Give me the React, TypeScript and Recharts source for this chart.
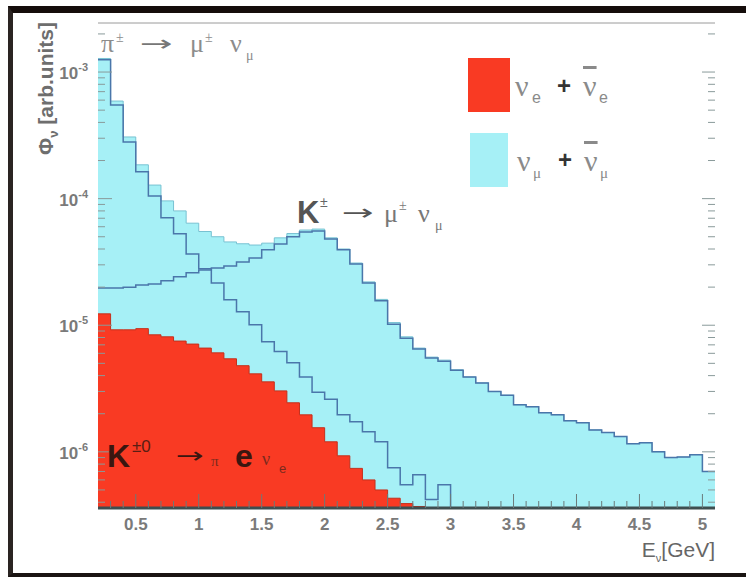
import React from 'react';
import { ComposedChart, Area, Line, XAxis, YAxis, ReferenceLine } from 'recharts';

// lower edge of each 0.1 GeV bin
const binStart = [
  0.2, 0.3, 0.4, 0.5, 0.6, 0.7, 0.8, 0.9, 1.0, 1.1, 1.2, 1.3, 1.4, 1.5, 1.6, 1.7,
  1.8, 1.9, 2.0, 2.1, 2.2, 2.3, 2.4, 2.5, 2.6, 2.7, 2.8, 2.9, 3.0, 3.1, 3.2, 3.3,
  3.4, 3.5, 3.6, 3.7, 3.8, 3.9, 4.0, 4.1, 4.2, 4.3, 4.4, 4.5, 4.6, 4.7, 4.8, 4.9, 5.0,
];
const E_MAX = 5.1;

// nu_mu + anti nu_mu (cyan, total)
const numuTotal = [
  1.28e-3, 5.9e-4, 3.07e-4, 1.85e-4, 1.28e-4, 9.6e-5, 8.0e-5, 6.4e-5, 5.5e-5, 5.0e-5,
  4.55e-5, 4.4e-5, 4.3e-5, 4.45e-5, 4.9e-5, 5.3e-5, 5.65e-5, 5.75e-5, 4.9e-5, 4.0e-5,
  3.1e-5, 2.2e-5, 1.6e-5, 1.05e-5, 8.1e-6, 6.6e-6, 5.6e-6, 5.3e-6, 4.45e-6, 3.9e-6,
  3.5e-6, 3.0e-6, 2.8e-6, 2.35e-6, 2.27e-6, 2.04e-6, 1.96e-6, 1.76e-6, 1.7e-6, 1.49e-6,
  1.42e-6, 1.32e-6, 1.16e-6, 1.18e-6, 1.0e-6, 9.0e-7, 9.1e-7, 9.5e-7, 7.0e-7,
];

// pi -> mu nu component
const numuPion = [
  1.25e-3, 5.5e-4, 2.8e-4, 1.63e-4, 1.05e-4, 7.05e-5, 5.27e-5, 3.66e-5, 2.79e-5, 2.16e-5,
  1.59e-5, 1.28e-5, 1.01e-5, 7.4e-6, 6.2e-6, 5.05e-6, 3.9e-6, 2.95e-6, 2.6e-6, 1.96e-6,
  1.73e-6, 1.44e-6, 1.2e-6, 7.5e-7, 5.5e-7, 6.6e-7, 4.2e-7, 5.5e-7, 0, 0,
  0, 0, 0, 0, 0, 0, 0, 0, 0, 0,
  0, 0, 0, 0, 0, 0, 0, 0, 0,
];

// K -> mu nu component
const numuKaon = [
  1.97e-5, 1.97e-5, 2.0e-5, 2.08e-5, 2.12e-5, 2.25e-5, 2.42e-5, 2.6e-5, 2.73e-5, 2.83e-5,
  2.94e-5, 3.16e-5, 3.4e-5, 3.94e-5, 4.39e-5, 4.99e-5, 5.46e-5, 5.55e-5, 4.8e-5, 3.94e-5,
  3.05e-5, 2.16e-5, 1.56e-5, 1.02e-5, 7.9e-6, 6.5e-6, 5.5e-6, 5.2e-6, 4.4e-6, 3.9e-6,
  3.5e-6, 3.0e-6, 2.8e-6, 2.35e-6, 2.27e-6, 2.04e-6, 1.96e-6, 1.76e-6, 1.7e-6, 1.49e-6,
  1.42e-6, 1.32e-6, 1.16e-6, 1.18e-6, 1.0e-6, 9.0e-7, 9.1e-7, 9.5e-7, 7.0e-7,
];

// nu_e + anti nu_e (red)
const nueTotal = [
  1.23e-5, 9.2e-6, 9.2e-6, 9.4e-6, 8.4e-6, 8.1e-6, 7.5e-6, 7.1e-6, 6.6e-6, 6.05e-6,
  5.43e-6, 4.79e-6, 4.13e-6, 3.57e-6, 3.03e-6, 2.44e-6, 1.96e-6, 1.55e-6, 1.2e-6, 9.3e-7,
  7.4e-7, 6.0e-7, 5.0e-7, 4.3e-7, 3.9e-7, 3.7e-7, 0, 0, 0, 0,
  0, 0, 0, 0, 0, 0, 0, 0, 0, 0,
  0, 0, 0, 0, 0, 0, 0, 0, 0,
];

const Y_MIN = 3.6e-7;
const Y_MAX = 2.44e-3;
const FLOOR = 1e-9; // empty bins, below the visible range of the log axis

const CYAN = '#a6f0f6';
const RED = '#f93a23';
const BLUE = '#4a76aa';

const lg = (v: number) => (v > 0 ? v : FLOOR);

const rows = binStart.map((e, i) => ({
  e,
  numu: lg(numuTotal[i]),
  pion: lg(numuPion[i]),
  kaon: lg(numuKaon[i]),
  nue: lg(nueTotal[i]),
}));
// closing edge of the last bin for the step curves
rows.push({ ...rows[rows.length - 1], e: E_MAX });

const xTicks = binStart.slice(1);
const isHalf = (v: number) => Math.abs(v * 2 - Math.round(v * 2)) < 1e-6;

const yTicks: number[] = [];
[1e-7, 1e-6, 1e-5, 1e-4, 1e-3].forEach((d) => {
  for (let m = 1; m <= 9; m++) {
    const v = m * d;
    if (v >= Y_MIN && v <= Y_MAX) yTicks.push(v);
  }
});
const isDecade = (v: number) => {
  const p = Math.round(Math.log10(v));
  return Math.abs(v - Math.pow(10, p)) / v < 1e-6;
};

const X_TM = 6;
const XTick = (props: any) => {
  const { x, y, payload } = props;
  const v = payload.value;
  const major = isHalf(v);
  const axisY = y - X_TM;
  return (
    <g>
      <line x1={x} x2={x} y1={axisY} y2={axisY - (major ? 14 : 7)} stroke="#6a7a7a" strokeWidth={1} />
      {major && (
        <text x={x} y={axisY + 22} textAnchor="middle" fontFamily="Liberation Sans" fontWeight="bold" fontSize={17} fill="#7a7a7a">
          {String(v)}
        </text>
      )}
    </g>
  );
};

const Y_TM = 10;
const YTickLeft = (props: any) => {
  const { x, y, payload } = props;
  const v = payload.value;
  const major = isDecade(v);
  const axisX = x + Y_TM;
  return (
    <g>
      <line x1={axisX} x2={axisX + (major ? 14 : 7)} y1={y} y2={y} stroke="#8a9a9a" strokeWidth={1} />
      {major && (
        <text x={x} y={y + 7} textAnchor="end" fontFamily="Liberation Sans" fontWeight="bold" fill="#7a7a7a">
          <tspan fontSize={17}>10</tspan>
          <tspan fontSize={11} dy={-8}>{String(Math.round(Math.log10(v)))}</tspan>
        </text>
      )}
    </g>
  );
};

const YTickRight = (props: any) => {
  const { x, y, payload } = props;
  const major = isDecade(payload.value);
  return <line x1={x - (major ? 13 : 7)} x2={x} y1={y} y2={y} stroke="#8a9a9a" strokeWidth={1} />;
};

const serif = 'Liberation Serif';
const sans = 'Liberation Sans';

const Arrow = ({ x, y, w, fill }: { x: number; y: number; w: number; fill: string }) => (
  <text x={x} y={y} fontFamily="DejaVu Sans" fontSize={22} fill={fill} textLength={w} lengthAdjust="spacingAndGlyphs">
    →
  </text>
);

const Annotations = () => (
  <svg width={746} height={577} style={{ position: 'absolute', left: 0, top: 0, pointerEvents: 'none' }}>
    {/* y axis title */}
    <text transform="translate(53,22) rotate(-90)" textAnchor="end" fontFamily={sans} fontWeight="bold" fontSize={21} fill="#6e6e6e">
      Φ<tspan fontSize={13} dy={5}>ν</tspan>
      <tspan dy={-5}> [arb.units]</tspan>
    </text>
    {/* x axis title */}
    <text x={715} y={557} textAnchor="end" fontFamily={sans} fontSize={21} fill="#666">
      E<tspan fontSize={11} dy={5}>ν</tspan>
      <tspan dy={-5}>[GeV]</tspan>
    </text>

    {/* pi -> mu nu */}
    <g fontFamily={serif} fill="#8c8c8c">
      <text x={101} y={52} fontSize={26}>π</text>
      <text x={116} y={42} fontSize={14}>±</text>
      <text x={190} y={52} fontSize={26}>μ</text>
      <text x={205} y={42} fontSize={14}>±</text>
      <text x={230} y={52} fontSize={26}>ν</text>
      <text x={246} y={60} fontSize={14}>μ</text>
    </g>
    <Arrow x={140} y={51} w={33} fill="#777" />

    {/* K -> mu nu */}
    <text x={297} y={223} fontFamily={sans} fontWeight="bold" fontSize={31} fill="#555">K</text>
    <text x={320} y={207} fontFamily={sans} fontSize={14} fill="#666">±</text>
    <Arrow x={342} y={220} w={32} fill="#555" />
    <g fontFamily={serif} fill="#777">
      <text x={384} y={222} fontSize={26}>μ</text>
      <text x={399} y={210} fontSize={14}>±</text>
      <text x={418} y={222} fontSize={26}>ν</text>
      <text x={435} y={230} fontSize={14}>μ</text>
    </g>

    {/* K -> pi e nu */}
    <text x={107} y={467} fontFamily={sans} fontWeight="bold" fontSize={32} fill="#3a1610">K</text>
    <text x={132} y={452} fontFamily={sans} fontSize={17} fill="#5a1e14">±0</text>
    <Arrow x={176} y={463} w={28} fill="#3a1610" />
    <text x={211} y={466} fontFamily={serif} fontSize={15} fill="#7a2a1e">π</text>
    <text x={235} y={467} fontFamily={sans} fontWeight="bold" fontSize={32} fill="#3a1610">e</text>
    <text x={262} y={465} fontFamily={serif} fontSize={18} fill="#7a2a1e">ν</text>
    <text x={279} y={473} fontFamily={sans} fontSize={13} fill="#7a2a1e">e</text>

    {/* legend */}
    <rect x={468} y={58} width={42} height={54} fill={RED} />
    <rect x={470} y={133} width={38} height={54} fill={CYAN} />
    <g fill="#8a8a8a">
      <text x={515} y={96} fontFamily={serif} fontSize={30}>ν</text>
      <text x={532} y={103} fontFamily={sans} fontSize={16}>e</text>
      <text x={583} y={96} fontFamily={serif} fontSize={30} style={{ textDecoration: 'overline' }}>ν</text>
      <text x={599} y={103} fontFamily={sans} fontSize={16}>e</text>
      <text x={517} y={171} fontFamily={serif} fontSize={30}>ν</text>
      <text x={533} y={178} fontFamily={serif} fontSize={15}>μ</text>
      <text x={584} y={171} fontFamily={serif} fontSize={30} style={{ textDecoration: 'overline' }}>ν</text>
      <text x={600} y={178} fontFamily={serif} fontSize={15}>μ</text>
    </g>
    <text x={557} y={94} fontFamily={sans} fontWeight="bold" fontSize={24} fill="#333">+</text>
    <text x={558} y={168} fontFamily={sans} fontWeight="bold" fontSize={24} fill="#333">+</text>
  </svg>
);

export default function App() {
  return (
    <div style={{ position: 'fixed', left: 0, top: 0, width: 746, height: 577, background: '#fff', overflow: 'hidden' }}>
      <ComposedChart width={746} height={577} data={rows} margin={{ top: 23, right: 30, bottom: 0, left: 0 }}>
        <Area yAxisId="l" dataKey="numu" type="stepAfter" fill={CYAN} fillOpacity={1} stroke="#78c2d2" strokeWidth={1} isAnimationActive={false} />
        <Area yAxisId="l" dataKey="nue" type="stepAfter" fill={RED} fillOpacity={1} stroke="#c4301c" strokeWidth={1} isAnimationActive={false} />
        <Line yAxisId="l" dataKey="pion" type="stepAfter" stroke={BLUE} strokeWidth={1.5} dot={false} isAnimationActive={false} />
        <Line yAxisId="l" dataKey="kaon" type="stepAfter" stroke={BLUE} strokeWidth={1.5} dot={false} isAnimationActive={false} />
        <ReferenceLine yAxisId="l" y={Y_MAX} stroke="#9a9a9a" strokeWidth={1} />
        <XAxis
          dataKey="e"
          type="number"
          domain={[0.2, E_MAX]}
          allowDataOverflow
          ticks={xTicks}
          interval={0}
          height={69}
          tickSize={0}
          tickLine={false}
          tickMargin={X_TM}
          axisLine={{ stroke: '#3e4e50', strokeWidth: 3 }}
          tick={(p: any) => <XTick {...p} />}
        />
        <YAxis
          yAxisId="l"
          type="number"
          scale="log"
          domain={[Y_MIN, Y_MAX]}
          allowDataOverflow
          ticks={yTicks}
          interval={0}
          width={98}
          tickSize={0}
          tickLine={false}
          tickMargin={Y_TM}
          axisLine={false}
          tick={(p: any) => <YTickLeft {...p} />}
        />
        <YAxis
          yAxisId="r"
          orientation="right"
          type="number"
          scale="log"
          domain={[Y_MIN, Y_MAX]}
          allowDataOverflow
          ticks={yTicks}
          interval={0}
          width={1}
          tickSize={0}
          tickLine={false}
          tickMargin={0}
          axisLine={false}
          tick={(p: any) => <YTickRight {...p} />}
        />
      </ComposedChart>
      <Annotations />
      {/* photographed slide frame */}
      <div
        style={{
          position: 'absolute',
          left: 8,
          top: 6,
          width: 746 - 8,
          height: 577 - 6,
          boxSizing: 'border-box',
          borderTop: '7px solid #150d0b',
          borderLeft: '5px solid #2a2422',
          borderBottom: '4px solid #1a1412',
          pointerEvents: 'none',
        }}
      />
    </div>
  );
}
